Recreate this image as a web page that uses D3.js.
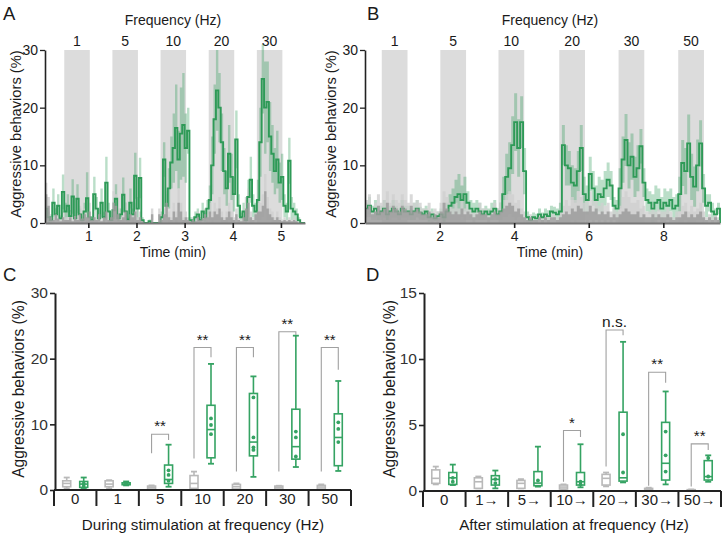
<!DOCTYPE html>
<html><head><meta charset="utf-8">
<script src="https://cdn.jsdelivr.net/npm/d3@7"></script>
<style>body{margin:0;background:#fff;} svg{display:block;}</style>
</head><body>
<script>
// ---------------- DATA ----------------
// Panel A (time course, 5 frequencies)
const freqA = ["1","5","10","20","30"];
const stimStartA = [0.5, 1.5, 2.5, 3.5, 4.5];
const stimDurA = 0.53;
const tStartA = 0.1, dtA = 0.05;
const aGreenMean = [
 2.5,1.0,0.5,3.5,1.5,3.0,0.8,5.4,2.0,
 3.0,1.2,4.6,0.8,4.2,1.5,0.5,2.0,4.3,1.0,0.5,
 5.0,2.5,0.8,3.5,1.0,7.0,2.0,0.5,2.2,
 4.2,0.8,1.5,4.9,2.0,0.6,3.5,1.5,8.2,2.5,7.8,
 0.5,0.0,0.0,0.3,0.0,0.0,0.0,0.0,1.0,
 11.0,3.0,6.0,10.5,13.0,16.5,11.0,15.5,17.0,13.0,16.0,
 0.5,0.3,1.0,1.5,0.5,2.0,1.0,2.5,4.0,
 10.0,18.0,23.0,20.0,14.0,9.0,6.0,12.0,8.0,5.0,14.5,
 3.0,1.0,2.0,0.5,4.5,7.5,3.0,2.0,4.0,
 14.0,25.0,20.0,21.0,15.0,12.0,9.0,11.0,7.0,8.0,3.0,
 2.0,10.8,2.5,2.0,1.5,0.5,0.0,0.0,0.0];
const aGreenSem = [
 2.0,1.0,0.5,2.5,1.0,2.0,0.5,3.0,1.5,
 2.0,1.0,3.0,0.5,2.5,1.0,0.5,1.5,4.5,0.8,0.5,
 3.0,2.0,0.5,2.5,0.8,4.5,1.5,0.5,1.5,
 2.5,0.5,1.0,3.0,1.5,0.5,2.5,1.0,4.0,2.0,3.5,
 0.5,0.0,0.0,0.3,0.0,0.0,0.0,0.0,1.0,
 3.0,2.0,3.5,4.5,6.0,7.5,5.0,8.0,9.0,6.0,4.0,
 0.5,0.3,1.0,1.0,0.5,1.5,0.8,1.5,2.5,
 5.0,6.0,7.0,6.0,5.0,4.0,3.0,5.0,4.0,3.0,5.0,
 2.0,0.8,1.5,0.5,3.0,4.0,2.0,1.5,3.5,
 6.0,6.0,8.0,7.0,6.0,5.0,4.0,5.0,3.5,4.0,2.0,
 1.5,4.0,2.0,1.5,1.0,0.5,0.0,0.0,0.0];
const aGrayMean = [
 5.0,3.0,1.0,0.5,1.5,0.8,0.3,1.0,0.5,
 0.5,1.0,0.3,1.2,0.5,1.5,0.8,1.5,1.0,2.0,0.5,
 1.0,0.5,1.5,0.3,1.0,2.0,0.5,1.0,3.5,
 3.0,1.5,0.5,1.0,2.0,0.5,1.5,1.0,2.0,0.5,1.0,
 0.3,0.0,0.0,0.0,1.5,0.0,0.0,1.5,0.5,
 1.5,3.5,1.0,0.5,2.0,1.0,3.5,2.0,0.5,1.0,0.5,
 0.3,0.5,0.3,1.0,0.5,0.8,1.5,1.0,2.0,
 1.0,2.0,1.5,2.5,1.0,0.5,1.0,2.0,1.0,0.5,1.5,
 0.5,0.3,1.0,2.5,3.5,1.0,0.5,1.5,2.0,
 2.0,3.0,5.5,2.5,1.5,1.0,0.5,1.0,0.5,0.3,0.5,
 0.3,0.5,0.3,0.5,0.3,0.0,0.0,0.0,2.0];
const aGraySem = [
 2.0,1.5,0.5,0.5,1.0,0.5,0.3,1.0,0.5,
 0.5,1.0,0.3,1.0,0.5,1.5,0.5,1.0,1.0,1.5,0.5,
 1.0,0.5,1.0,0.3,1.0,1.5,0.5,1.0,2.0,
 2.0,1.0,0.5,1.0,1.5,0.5,1.0,1.0,1.5,0.5,1.0,
 0.3,0.0,0.0,0.0,1.0,0.0,0.0,1.0,0.5,
 1.0,2.0,1.0,0.5,1.5,1.0,2.5,1.5,0.5,1.0,0.5,
 0.3,0.5,0.3,1.0,0.5,0.5,1.0,1.0,1.5,
 1.0,1.5,1.0,2.0,1.0,0.5,1.0,1.5,1.0,0.5,1.0,
 0.5,0.3,1.0,2.0,2.5,1.0,0.5,1.0,1.5,
 1.5,2.0,3.0,2.0,1.0,1.0,0.5,1.0,0.5,0.3,0.5,
 0.3,0.5,0.3,0.5,0.3,0.0,0.0,0.0,1.0];

// Panel B (time course, 6 frequencies)
const freqB = ["1","5","10","20","30","50"];
const stimStartB = [0.45, 2.02, 3.58, 5.21, 6.8, 8.4];
const stimDurB = 0.69;
const tStartB = 0.0, dtB = 0.08;
const bGreenMean = [
 2.5,3.0,2.0,2.5,1.5,2.0,2.5,1.5,2.0,2.5,
 2.0,1.5,2.5,2.0,2.0,1.5,2.0,2.5,1.8,1.5,
 2.0,1.0,1.5,0.8,1.2,1.5,1.0,2.0,3.0,3.5,
 4.5,5.0,4.0,5.0,3.5,2.5,2.0,2.5,2.0,1.5,
 2.0,1.5,2.0,2.5,1.5,2.0,5.0,8.0,9.5,13.5,
 17.5,13.0,17.5,9.0,1.0,0.5,1.0,0.8,1.5,1.0,
 1.5,1.2,2.0,1.8,1.5,2.0,13.5,10.0,9.5,7.0,
 6.5,9.0,13.0,5.0,4.0,8.5,6.0,4.0,5.0,4.5,
 6.0,7.5,6.5,3.0,2.5,6.0,11.0,14.4,10.0,11.5,
 8.0,9.5,13.3,7.0,4.0,3.5,2.5,3.5,4.0,2.5,
 3.5,3.0,4.0,2.5,3.0,5.0,10.4,9.0,13.8,8.0,
 6.3,10.0,13.8,6.0,3.0,3.5,2.0,1.5,2.5,0.0];
const bGreenSem = [
 1.0,1.5,1.0,1.5,1.0,1.0,1.5,1.0,1.0,1.5,
 1.0,1.0,1.5,1.0,1.0,1.0,1.5,1.5,1.0,1.0,
 1.0,0.8,1.0,0.5,0.8,1.0,0.8,1.5,2.0,2.5,
 3.0,3.5,2.5,3.0,2.0,1.5,1.5,1.5,1.5,1.0,
 1.0,1.0,1.5,1.5,1.0,1.5,3.0,4.0,4.5,5.0,
 5.0,5.0,4.5,4.0,1.0,0.5,0.8,0.8,1.0,0.8,
 1.0,1.0,1.0,1.0,1.0,1.5,3.5,3.5,3.0,3.0,
 3.0,3.5,4.0,3.0,2.5,3.0,3.0,2.5,3.0,3.0,
 3.0,3.0,2.5,1.5,1.5,3.5,4.0,4.5,4.0,4.0,
 3.5,4.0,3.0,2.5,2.0,2.0,2.5,3.0,2.0,2.0,
 2.5,2.5,2.0,2.0,2.0,3.0,4.0,4.0,5.0,4.0,
 3.5,4.5,4.0,2.5,2.0,1.5,1.5,1.0,1.0,0.0];
const bGrayMean = [
 2.5,3.0,1.5,2.0,3.0,2.0,2.5,3.5,2.0,3.0,
 2.5,2.0,3.0,2.5,2.0,3.0,2.0,2.5,2.0,1.5,
 1.5,2.0,1.0,1.5,1.0,2.0,3.5,2.5,2.0,1.5,
 2.0,1.5,2.5,1.5,2.0,1.5,1.0,1.5,2.0,1.5,
 1.5,1.0,1.5,2.0,1.5,2.0,2.5,3.0,3.5,3.0,
 2.0,2.5,1.5,1.0,0.5,1.0,0.5,0.5,1.0,0.5,
 1.0,0.5,1.0,1.0,0.5,1.0,1.5,2.0,1.5,2.5,
 2.0,3.0,2.5,2.0,2.0,3.0,2.0,2.5,1.5,2.0,
 1.5,2.0,1.0,1.5,1.0,1.5,2.0,2.5,2.0,1.5,
 1.5,2.0,1.0,1.5,1.0,1.0,1.5,1.0,1.5,1.0,
 1.0,1.5,1.0,0.5,1.0,1.0,1.5,2.0,1.0,1.5,
 1.0,1.5,2.0,1.0,0.5,1.0,0.5,1.0,0.5,0.0];
const bGraySem = [
 1.5,2.0,1.0,1.5,2.0,1.5,1.5,2.0,1.5,2.0,
 1.5,1.5,2.0,1.5,1.5,2.0,1.5,1.5,1.5,1.0,
 1.0,1.5,1.0,1.0,1.0,1.5,2.0,2.0,1.5,1.0,
 1.5,1.0,1.5,1.0,1.5,1.0,1.0,1.0,1.5,1.0,
 1.0,1.0,1.0,1.5,1.0,1.5,1.5,2.0,2.0,2.0,
 1.5,1.5,1.0,1.0,0.5,0.5,0.5,0.5,0.5,0.5,
 0.5,0.5,0.5,0.5,0.5,1.0,1.5,2.0,1.5,2.0,
 2.0,2.5,2.0,1.5,2.0,2.5,2.0,2.0,1.5,1.5,
 1.5,1.5,1.0,1.0,1.0,1.5,2.5,3.0,2.5,2.0,
 2.0,2.0,1.5,1.5,1.0,1.0,1.5,1.0,1.0,1.0,
 1.0,1.0,1.0,0.5,1.0,1.0,1.5,1.5,1.0,1.5,
 1.0,1.0,1.5,1.0,0.5,0.5,0.5,0.5,0.5,0.0];

// Panel C (during stimulation) — box stats [min, q1, median, q3, max]
const catsC = ["0","1","5","10","20","30","50"];
const ctrlC = [[0.25,0.5,1.0,1.4,1.9],[0.25,0.5,0.9,1.4,1.5],[0.1,0.15,0.4,0.6,0.7],
  [0.25,0.25,1.0,2.2,2.8],[0.15,0.15,0.5,0.85,1.0],[0.1,0.15,0.4,0.6,0.65],[0.1,0.15,0.45,0.7,0.85]];
const expC = [[0.3,0.4,0.9,1.3,1.9],[0.7,0.8,0.9,1.1,1.3],[0.5,1.0,1.6,3.8,6.9],
  [4.0,4.9,9.2,12.9,19.2],[2.0,5.2,7.3,14.7,17.3],[3.5,4.7,6.6,12.3,23.5],[2.9,3.7,8.0,11.6,16.6]];
const dotsC = [[1.0,0.6],[1.0,0.9],[3.0,2.3,1.4],[10.9,9.9,8.5],[14.1,8.0,6.5,6.1],[8.9,8.0,5.1],[10.3,9.3,7.3]];
// significance brackets: [category index, top, left bottom, right bottom, label]
const sigC = [[2,8.5,5.6,7.6,"**"],[3,21.7,4.8,20.2,"**"],[4,21.7,2.8,20.2,"**"],
  [5,24.1,2.8,23.6,"**"],[6,21.7,2.8,18.3,"**"]];

// Panel D (after stimulation)
const catsD = ["0","1\u2192","5\u2192","10\u2192","20\u2192","30\u2192","50\u2192"];
const ctrlD = [[0.5,0.58,0.96,1.6,1.85],[0.2,0.2,0.7,1.0,1.1],[0.2,0.2,0.58,0.8,0.9],
  [0.15,0.15,0.3,0.45,0.5],[0.35,0.45,0.96,1.26,1.4],[0.05,0.07,0.12,0.2,0.25],[0.03,0.04,0.07,0.1,0.12]];
const expD = [[0.45,0.5,1.0,1.4,2.0],[0.2,0.45,0.88,1.16,1.55],[0.33,0.4,0.6,1.47,3.36],
  [0.28,0.45,0.7,1.4,3.54],[0.65,0.75,1.0,5.97,11.3],[0.5,0.83,2.1,5.2,7.54],[0.7,0.83,1.09,2.3,2.7]];
const dotsD = [[1.0,0.7],[0.9,0.6],[0.8],[0.7,0.5],[4.3,1.4],[4.5,2.7,1.47],[2.5,1.1]];
const sigD = [[3,4.58,0.7,4.1,"*"],[4,12.2,1.85,11.8,"n.s."],[5,9.0,0.4,8.2,"**"],[6,3.57,0.35,3.1,"**"]];

// ---------------- STYLE ----------------
const FONT = "'Liberation Sans', Arial, Helvetica, sans-serif";
const GREEN = "#2e9a57", GREEN_BAND = "rgba(46,154,87,0.33)";
const GRAY = "#9c9c9c", GRAY_BAND = "#cfcfcf", STIM = "#dcdcdc";
const BOXGREEN = "#35a363", BOXGRAY = "#b9b9b9";

const svg = d3.select("body").append("svg").attr("width",725).attr("height",536)
  .style("font-family", FONT);

function txt(x,y,s,size,anchor){
  return svg.append("text").attr("x",x).attr("y",y).text(s)
    .attr("font-size",size).attr("text-anchor",anchor||"middle").attr("fill","#1a1a1a");
}
function vtitle(x,y,s,size){
  svg.append("text").attr("transform",`translate(${x},${y}) rotate(-90)`)
    .attr("text-anchor","middle").attr("dominant-baseline","central")
    .attr("font-size",size).attr("fill","#1a1a1a").text(s);
}

// ---------------- TIME COURSE PANELS ----------------
function timePanel(opts){
  const {x, y, freqs, starts, dur, t0, dt, gm, gs, cm, cs, ticks} = opts;
  const times = gm.map((_,i)=>t0+i*dt);
  svg.append("g").selectAll("rect").data(starts).join("rect")
    .attr("x",d=>x(d)).attr("width",d=>x(d+dur)-x(d))
    .attr("y",y(30)).attr("height",y(0)-y(30)).attr("fill",STIM);
  svg.append("g").selectAll("text").data(freqs).join("text")
    .attr("x",(d,i)=>x(starts[i]+dur/2)).attr("y",y(30)-4)
    .attr("text-anchor","middle").attr("font-size",14).attr("fill","#1a1a1a").text(d=>d);
  const area = (m,s)=>d3.area().curve(d3.curveStepAfter)
    .x((d,i)=>x(times[i])).y0((d,i)=>y(Math.max(0,m[i]-s[i]))).y1((d,i)=>y(m[i]+s[i]));
  svg.append("path").datum(gm).attr("d",area(gm,gs)).attr("fill",GREEN_BAND);
  svg.append("path").datum(cm).attr("d",area(cm,cs)).attr("fill",GRAY_BAND).attr("opacity",0.8);
  svg.append("path").datum(gm).attr("d",d3.line().curve(d3.curveStepAfter)
      .x((d,i)=>x(times[i])).y(d=>y(d)))
    .attr("fill","none").attr("stroke",GREEN).attr("stroke-width",1.9);
  svg.append("path").datum(cm).attr("d",d3.area().curve(d3.curveStepAfter)
      .x((d,i)=>x(times[i])).y0(y(0)).y1(d=>y(d)))
    .attr("fill",GRAY).attr("opacity",0.85);
  const ya = svg.append("g").attr("transform",`translate(${x.range()[0]},0)`)
    .call(d3.axisLeft(y).tickValues([0,10,20,30]).tickSize(5).tickSizeOuter(0).tickPadding(2));
  ya.select(".domain").attr("stroke","#222").attr("stroke-width",1.6);
  ya.selectAll(".tick line").attr("stroke","#222").attr("stroke-width",1.3);
  ya.selectAll(".tick text").attr("font-size",14).attr("font-family",FONT).attr("fill","#1a1a1a");
  const xa = svg.append("g").attr("transform",`translate(0,${y(0)})`)
    .call(d3.axisBottom(x).tickValues(ticks).tickFormat(d3.format("d"))
      .tickSize(5).tickSizeOuter(0).tickPadding(3));
  xa.select(".domain").attr("stroke","#777").attr("stroke-width",1.8);
  xa.selectAll(".tick line").attr("stroke","#222").attr("stroke-width",1.6);
  xa.selectAll(".tick text").attr("font-size",14).attr("font-family",FONT).attr("fill","#1a1a1a");
}

const xA = d3.scaleLinear().domain([0.1,5.5]).range([45,305]);
const yA = d3.scaleLinear().domain([0,30]).range([223,50]);
timePanel({x:xA,y:yA,freqs:freqA,starts:stimStartA,dur:stimDurA,t0:tStartA,dt:dtA,
  gm:aGreenMean,gs:aGreenSem,cm:aGrayMean,cs:aGraySem,ticks:[1,2,3,4,5]});
const xB = d3.scaleLinear().domain([0,9.52]).range([365,720]);
const yB = d3.scaleLinear().domain([0,30]).range([223,50]);
timePanel({x:xB,y:yB,freqs:freqB,starts:stimStartB,dur:stimDurB,t0:tStartB,dt:dtB,
  gm:bGreenMean,gs:bGreenSem,cm:bGrayMean,cs:bGraySem,ticks:[2,4,6,8]});

txt(173,25,"Frequency (Hz)",14);
txt(550,25,"Frequency (Hz)",14);
txt(173,257,"Time (min)",14);
txt(550,257,"Time (min)",14);
vtitle(16,134,"Aggressive behaviors (%)",14.7);
vtitle(331,134,"Aggressive behaviors (%)",14.7);

// ---------------- BOX PANELS ----------------
function boxPanel(opts){
  const {x, y, cats, ctrl, exp, dots, sig, ticks} = opts;
  const off = 8.5, bw = 8, cap = 6;
  const cx = (i,side)=>x(cats[i])+x.bandwidth()/2+side*off;
  function drawBox(stats, i, side, color){
    const g = svg.append("g");
    const c = cx(i,side);
    const [mn,q1,md,q3,mx] = stats;
    g.append("line").attr("x1",c).attr("x2",c).attr("y1",y(mn)).attr("y2",y(mx))
      .attr("stroke",color).attr("stroke-width",1.6);
    [mn,mx].forEach(v=>g.append("line").attr("x1",c-cap/2).attr("x2",c+cap/2)
      .attr("y1",y(v)).attr("y2",y(v)).attr("stroke",color).attr("stroke-width",1.8));
    g.append("rect").attr("x",c-bw/2).attr("width",bw).attr("y",y(q3))
      .attr("height",Math.max(1.5,y(q1)-y(q3))).attr("fill","#fff")
      .attr("stroke",color).attr("stroke-width",1.6);
    g.append("line").attr("x1",c-bw/2).attr("x2",c+bw/2).attr("y1",y(md)).attr("y2",y(md))
      .attr("stroke",color).attr("stroke-width",1.6);
  }
  cats.forEach((c,i)=>{
    drawBox(ctrl[i],i,-1,BOXGRAY);
    drawBox(exp[i],i,1,BOXGREEN);
    svg.append("g").selectAll("circle").data(dots[i]).join("circle")
      .attr("cx",cx(i,1)).attr("cy",d=>y(d)).attr("r",1.9).attr("fill",BOXGREEN);
  });
  sig.forEach(([i,top,lb,rb,lab])=>{
    const xl = cx(i,-1), xr = cx(i,1);
    svg.append("path").attr("d",`M${xl},${y(lb)}V${y(top)}H${xr}V${y(rb)}`)
      .attr("fill","none").attr("stroke","#a0a0a0").attr("stroke-width",1.1);
    txt((xl+xr)/2, y(top)-3, lab, lab==="n.s."?15.5:15);
  });
  const ya = svg.append("g").attr("transform",`translate(${x.range()[0]+1},0)`)
    .call(d3.axisLeft(y).tickValues(ticks).tickSize(5).tickSizeOuter(0).tickPadding(2));
  ya.select(".domain").attr("stroke","#222").attr("stroke-width",2);
  ya.selectAll(".tick line").attr("stroke","#222").attr("stroke-width",1.6);
  ya.selectAll(".tick text").attr("font-size",15.5).attr("font-family",FONT).attr("fill","#333");
  const y0 = y(0);
  svg.append("line").attr("x1",x.range()[0]).attr("x2",x.range()[1]).attr("y1",y0).attr("y2",y0)
    .attr("stroke","#222").attr("stroke-width",2);
  const edges = cats.map(c=>x(c)).concat([x.range()[1]]);
  svg.append("g").selectAll("line").data(edges).join("line")
    .attr("x1",d=>d).attr("x2",d=>d).attr("y1",y0).attr("y2",y0+16)
    .attr("stroke","#222").attr("stroke-width",2);
  svg.append("g").selectAll("text").data(cats).join("text")
    .attr("x",c=>x(c)+x.bandwidth()/2).attr("y",y0+14)
    .attr("text-anchor","middle").attr("font-size",15).attr("fill","#222").text(c=>c);
}

const xC = d3.scaleBand().domain(catsC).range([54,351]);
const yC = d3.scaleLinear().domain([0,30]).range([490,293]);
boxPanel({x:xC,y:yC,cats:catsC,ctrl:ctrlC,exp:expC,dots:dotsC,sig:sigC,ticks:[0,10,20,30]});
const xD = d3.scaleBand().domain(catsD).range([423,721]);
const yD = d3.scaleLinear().domain([0,15]).range([491,293]);
boxPanel({x:xD,y:yD,cats:catsD,ctrl:ctrlD,exp:expD,dots:dotsD,sig:sigD,ticks:[0,5,10,15]});

txt(203,530,"During stimulation at frequency (Hz)",15.2);
txt(574,530,"After stimulation at frequency (Hz)",15.2);
vtitle(18,389,"Aggressive behaviors (%)",15.6);
vtitle(389,389,"Aggressive behaviors (%)",15.6);

txt(3,20,"A",18.5,"start");
txt(367,20,"B",18.5,"start");
txt(3,281,"C",18.5,"start");
txt(366,281,"D",18.5,"start");
</script>
</body></html>
